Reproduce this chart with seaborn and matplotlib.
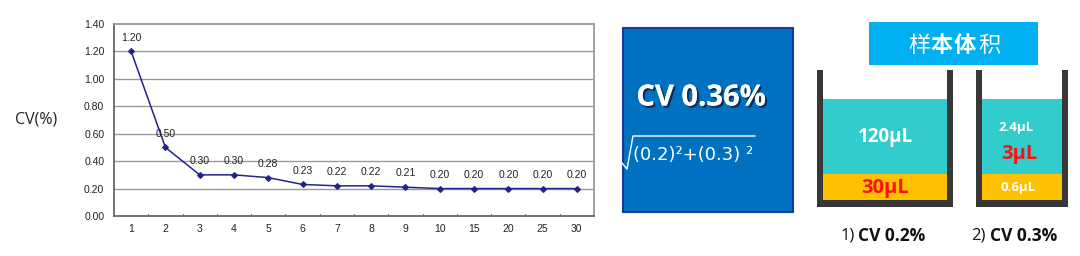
import matplotlib
matplotlib.use("Agg")
import matplotlib.pyplot as plt
import matplotlib.patheffects as pe
from matplotlib.patches import Rectangle
import seaborn as sns
import pandas as pd

# ---- data ----
categories = ["1", "2", "3", "4", "5", "6", "7", "8", "9", "10", "15", "20", "25", "30"]
cv_values = [1.20, 0.50, 0.30, 0.30, 0.28, 0.23, 0.22, 0.22, 0.21, 0.20, 0.20, 0.20, 0.20, 0.20]
y_ticks = [0.00, 0.20, 0.40, 0.60, 0.80, 1.00, 1.20, 1.40]
y_label = "CV(%)"
combined_cv = "CV 0.36%"
formula = "(0.2)²+(0.3) ²"
panel_title_chars = ["样", "本", "体", "积"]
tube1_labels = ["120μL", "30μL"]
tube2_labels = ["2.4μL", "3μL", "0.6μL"]
caption1 = ("1)", "CV 0.2%")
caption2 = ("2)", "CV 0.3%")

sns.set_theme(style="white")
plt.rcParams["font.family"] = ["Liberation Sans", "DejaVu Sans"]

W, H, DPI = 1080, 256, 100
fig = plt.figure(figsize=(W / DPI, H / DPI), dpi=DPI)
fig.patch.set_facecolor("white")


def px_axes(x0, y0, x1, y1):
    return fig.add_axes([x0 / W, 1 - y1 / H, (x1 - x0) / W, (y1 - y0) / H])


# ---- line chart ----
ax = px_axes(114, 24, 594, 216)
df = pd.DataFrame({"n": categories, "cv": cv_values})
line_color = "#23238C"
sns.pointplot(data=df, x="n", y="cv", order=categories, color=line_color,
              markers="D", markersize=3, linewidth=1.1, ax=ax)
ax.set_xlim(-0.5, len(categories) - 0.5)
ax.set_ylim(0, 1.4)
ax.set_yticks(y_ticks)
ax.set_yticklabels([f"{v:.2f}" for v in y_ticks], fontsize=7.5, color="#222222")
ax.set_xticks(range(len(categories)))
ax.set_xticklabels(categories, fontsize=7.5, color="#222222")
ax.tick_params(axis="y", length=0, pad=7)
ax.tick_params(axis="x", length=0, pad=6)
for b in range(1, len(categories)):
    ax.plot([b - 0.5, b - 0.5], [0, 0.018], color="#666666", lw=0.8, clip_on=False)
for v in y_ticks[1:-1]:
    ax.axhline(v, color="#9a9a9a", lw=1.0, zorder=0)
for s in ax.spines.values():
    s.set_visible(True)
    s.set_color("#9a9a9a")
    s.set_linewidth(1.3)
ax.spines["left"].set_color("#666666")
ax.spines["bottom"].set_color("#666666")
ax.set_xlabel("")
ax.set_ylabel(y_label, rotation=0, fontsize=11.5, family="Open Sans", color="#222222")
ax.yaxis.set_label_coords(-0.1625, 0.5)
ax.yaxis.label.set_verticalalignment("center")
for i, v in enumerate(cv_values):
    ax.annotate(f"{v:.2f}", (i, v), xytext=(0, 10), textcoords="offset points",
                ha="center", va="center", fontsize=7.5, color="#222222")

# ---- overlay for right panels ----
ov = fig.add_axes([0, 0, 1, 1])
ov.set_xlim(0, W)
ov.set_ylim(H, 0)
ov.axis("off")
ov.patch.set_alpha(0)

# blue CV box
ov.add_patch(Rectangle((623, 28), 170, 184, facecolor="#0070C0", edgecolor="#1A3A9A", lw=1.5))
ov.text(701, 98, combined_cv, ha="center", va="center", fontsize=21, fontweight="bold",
        family="Open Sans", color="white",
        path_effects=[pe.withSimplePatchShadow(offset=(1.5, -1.5), shadow_rgbFace="#102040", alpha=0.8), pe.Normal()])
ov.plot([612, 622, 627, 633, 755], [163, 163, 169, 136, 136], color="white", lw=1.0)
ov.text(633, 155, formula, ha="left", va="center", fontsize=13, family="DejaVu Sans", color="white")

# title box
ov.add_patch(Rectangle((869, 22), 169, 43, facecolor="#00B0F0", edgecolor="none"))
for ch, cx, bold in zip(panel_title_chars, [919, 942, 965, 989], [False, True, True, False]):
    ov.text(cx, 45, ch, ha="center", va="center", fontsize=16, color="white",
            family="Noto Sans CJK SC", fontweight="bold" if bold else "normal")

wall = "#383838"
teal = "#33CCCC"
gold = "#FFC000"


def tube(x0, x1):
    ov.add_patch(Rectangle((x0 + 6, 99), x1 - x0 - 12, 75, facecolor=teal, edgecolor="none"))
    ov.add_patch(Rectangle((x0 + 6, 174), x1 - x0 - 12, 26, facecolor=gold, edgecolor="none"))
    ov.add_patch(Rectangle((x0, 70), 6, 137, facecolor=wall, edgecolor="none"))
    ov.add_patch(Rectangle((x1 - 6, 70), 6, 137, facecolor=wall, edgecolor="none"))
    ov.add_patch(Rectangle((x0, 200), x1 - x0, 7, facecolor=wall, edgecolor="none"))


tube(817, 953)
tube(976, 1068)

ov.text(885, 137, tube1_labels[0], ha="center", va="center", fontsize=13.5, fontweight="bold",
        family="Open Sans", color="white")
ov.text(885, 188, tube1_labels[1], ha="center", va="center", fontsize=14.5, fontweight="bold",
        family="Open Sans", color="#FF1010")
ov.text(1016, 128, tube2_labels[0], ha="center", va="center", fontsize=9.5, fontweight="bold",
        family="Open Sans", color="white")
ov.text(1019, 154, tube2_labels[1], ha="center", va="center", fontsize=14.5, fontweight="bold",
        family="Open Sans", color="#FF1010")
ov.text(1018, 188, tube2_labels[2], ha="center", va="center", fontsize=9.5, fontweight="bold",
        family="Open Sans", color="white")

for (num, txt), xn, xt in [(caption1, 841, 858), (caption2, 971, 990)]:
    ov.text(xn, 236, num, ha="left", va="center", fontsize=12, family="Open Sans", color="#111111")
    ov.text(xt, 236, txt, ha="left", va="center", fontsize=12.5, fontweight="bold",
            family="Open Sans", color="#111111")

fig.savefig("out.png", dpi=DPI)
